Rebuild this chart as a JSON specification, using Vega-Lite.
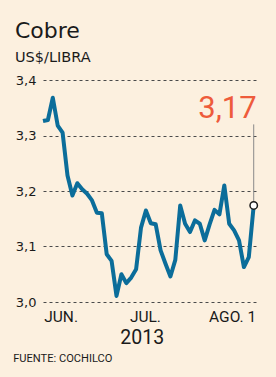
{
  "$schema": "https://vega.github.io/schema/vega-lite/v6.json",
  "width": 214,
  "height": 222,
  "autosize": {"type": "none"},
  "padding": {"left": 43, "top": 80, "right": 19, "bottom": 75},
  "background": "#fcf0df",
  "config": {
    "view": {"stroke": null},
    "locale": {"number": {"decimal": ",", "thousands": ".", "grouping": [3], "currency": ["$", ""]}}
  },
  "title": {
    "text": "Cobre",
    "subtitle": "US$/LIBRA",
    "anchor": "start",
    "frame": "group",
    "dx": -28,
    "offset": 9,
    "font": "DejaVu Sans",
    "fontSize": 22,
    "fontWeight": "normal",
    "color": "#1a1a1a",
    "subtitleFont": "DejaVu Sans",
    "subtitleFontSize": 14.5,
    "subtitleColor": "#1a1a1a",
    "subtitlePadding": 8
  },
  "datasets": {
    "cobre": [
      {"i": 0, "fecha": "2013-06-03", "precio": 3.326},
      {"i": 1, "fecha": "2013-06-04", "precio": 3.328},
      {"i": 2, "fecha": "2013-06-05", "precio": 3.368},
      {"i": 3, "fecha": "2013-06-06", "precio": 3.318},
      {"i": 4, "fecha": "2013-06-07", "precio": 3.305},
      {"i": 5, "fecha": "2013-06-10", "precio": 3.228},
      {"i": 6, "fecha": "2013-06-11", "precio": 3.192},
      {"i": 7, "fecha": "2013-06-12", "precio": 3.214},
      {"i": 8, "fecha": "2013-06-13", "precio": 3.203},
      {"i": 9, "fecha": "2013-06-14", "precio": 3.195},
      {"i": 10, "fecha": "2013-06-17", "precio": 3.183},
      {"i": 11, "fecha": "2013-06-18", "precio": 3.161},
      {"i": 12, "fecha": "2013-06-19", "precio": 3.160},
      {"i": 13, "fecha": "2013-06-20", "precio": 3.086},
      {"i": 14, "fecha": "2013-06-21", "precio": 3.074},
      {"i": 15, "fecha": "2013-06-24", "precio": 3.011},
      {"i": 16, "fecha": "2013-06-25", "precio": 3.050},
      {"i": 17, "fecha": "2013-06-26", "precio": 3.034},
      {"i": 18, "fecha": "2013-06-27", "precio": 3.044},
      {"i": 19, "fecha": "2013-06-28", "precio": 3.059},
      {"i": 20, "fecha": "2013-07-01", "precio": 3.134},
      {"i": 21, "fecha": "2013-07-02", "precio": 3.165},
      {"i": 22, "fecha": "2013-07-03", "precio": 3.142},
      {"i": 23, "fecha": "2013-07-04", "precio": 3.140},
      {"i": 24, "fecha": "2013-07-05", "precio": 3.093},
      {"i": 25, "fecha": "2013-07-08", "precio": 3.069},
      {"i": 26, "fecha": "2013-07-09", "precio": 3.046},
      {"i": 27, "fecha": "2013-07-10", "precio": 3.076},
      {"i": 28, "fecha": "2013-07-11", "precio": 3.174},
      {"i": 29, "fecha": "2013-07-12", "precio": 3.141},
      {"i": 30, "fecha": "2013-07-15", "precio": 3.126},
      {"i": 31, "fecha": "2013-07-16", "precio": 3.147},
      {"i": 32, "fecha": "2013-07-17", "precio": 3.141},
      {"i": 33, "fecha": "2013-07-18", "precio": 3.111},
      {"i": 34, "fecha": "2013-07-19", "precio": 3.140},
      {"i": 35, "fecha": "2013-07-22", "precio": 3.166},
      {"i": 36, "fecha": "2013-07-23", "precio": 3.158},
      {"i": 37, "fecha": "2013-07-24", "precio": 3.210},
      {"i": 38, "fecha": "2013-07-25", "precio": 3.141},
      {"i": 39, "fecha": "2013-07-26", "precio": 3.129},
      {"i": 40, "fecha": "2013-07-29", "precio": 3.111},
      {"i": 41, "fecha": "2013-07-30", "precio": 3.063},
      {"i": 42, "fecha": "2013-07-31", "precio": 3.081},
      {"i": 43, "fecha": "2013-08-01", "precio": 3.174}
    ]
  },
  "data": {"name": "cobre"},
  "encoding": {
    "x": {
      "field": "i",
      "type": "quantitative",
      "scale": {"domain": [0, 43.67], "nice": false, "zero": false},
      "axis": {
        "values": [3.6, 20.8, 38.6],
        "labelExpr": "datum.value < 10 ? 'JUN.' : datum.value < 30 ? 'JUL.' : 'AGO. 1'",
        "grid": false,
        "domain": false,
        "ticks": false,
        "tickSize": 0,
        "labelFont": "Roboto",
        "labelFontSize": 15.5,
        "labelColor": "#1a1a1a",
        "labelBaseline": "alphabetic",
        "labelPadding": 19.5,
        "labelFlush": false,
        "labelOverlap": false,
        "title": "2013",
        "titleFont": "Roboto",
        "titleFontSize": 19.5,
        "titleFontWeight": "normal",
        "titleColor": "#1a1a1a",
        "titleX": 98.7,
        "titleY": 41.5,
        "titleBaseline": "alphabetic",
        "titleAlign": "center"
      }
    },
    "y": {
      "field": "precio",
      "type": "quantitative",
      "scale": {"domain": [3.0, 3.4], "nice": false, "zero": false},
      "axis": {
        "values": [3.0, 3.1, 3.2, 3.3, 3.4],
        "format": ".1f",
        "grid": true,
        "gridDash": [3, 3],
        "gridColor": "#4a4a4a",
        "gridWidth": 1,
        "domain": false,
        "ticks": false,
        "tickSize": 0,
        "labelFont": "DejaVu Sans",
        "labelFontSize": 13,
        "labelColor": "#1a1a1a",
        "labelPadding": 7,
        "labelBaseline": "middle",
        "title": "FUENTE: COCHILCO",
        "titleAngle": 0,
        "titleX": -30.3,
        "titleY": 281.7,
        "titleAlign": "left",
        "titleBaseline": "alphabetic",
        "titleFont": "Roboto",
        "titleFontSize": 11.1,
        "titleFontWeight": "normal",
        "titleColor": "#1a1a1a"
      }
    }
  },
  "layer": [
    {
      "mark": {"type": "line", "color": "#0b6d9a", "strokeWidth": 4, "strokeJoin": "round"}
    },
    {
      "transform": [{"filter": "datum.i == 43"}],
      "mark": {"type": "rule", "color": "#8a8a8a", "strokeWidth": 1},
      "encoding": {"y2": {"datum": 3.32}}
    },
    {
      "transform": [{"filter": "datum.i == 43"}],
      "mark": {"type": "point", "filled": true, "fill": "#ffffff", "stroke": "#1a1a1a", "strokeWidth": 1.5, "size": 55, "opacity": 1}
    },
    {
      "transform": [{"filter": "datum.i == 43"}],
      "mark": {"type": "text", "font": "Roboto", "fontSize": 31, "color": "#ee5b3b", "align": "right", "baseline": "alphabetic", "dx": 3, "dy": -87},
      "encoding": {"text": {"field": "precio", "type": "quantitative", "format": ".2f"}}
    },
    {
      "data": {"values": [{}]},
      "mark": {"type": "rect", "fill": null, "stroke": "#b4a096", "strokeWidth": 2, "clip": false},
      "encoding": {
        "x": {"datum": -8.57},
        "x2": {"datum": 47.35},
        "y": {"datum": 3.5423},
        "y2": {"datum": 2.8667}
      }
    }
  ]
}
